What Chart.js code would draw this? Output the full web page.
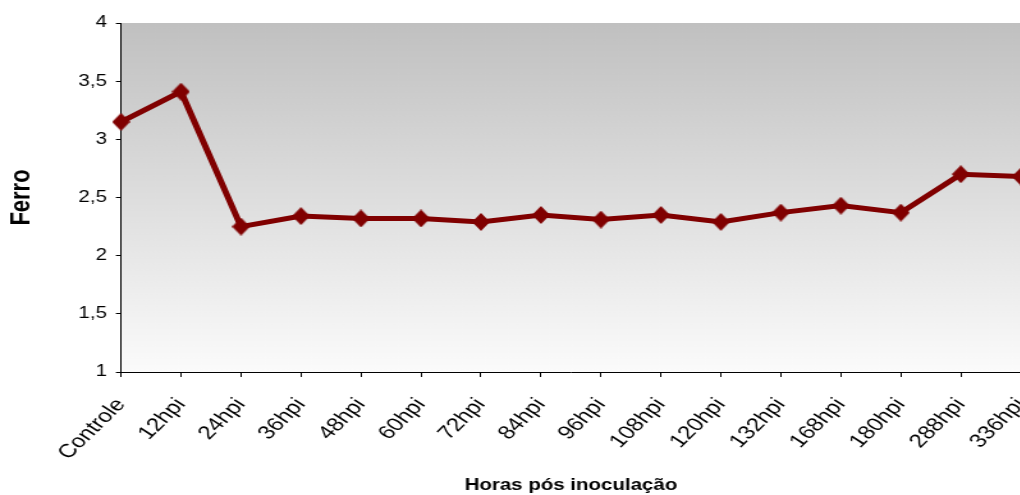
<!DOCTYPE html>
<html>
<head>
<meta charset="utf-8">
<script src="https://cdn.jsdelivr.net/npm/chart.js@4/dist/chart.umd.min.js"></script>
<style>
  html, body { margin: 0; padding: 0; background: #fff; overflow: hidden; }
  #ferroChart { display: block; }
</style>
</head>
<body>
<!-- drawn narrow and stretched sideways, like the original picture -->
<canvas id="ferroChart" width="813" height="495" style="width:1040px;height:495px"></canvas>
<script>
const categories = ["Controle", "12hpi", "24hpi", "36hpi", "48hpi", "60hpi", "72hpi", "84hpi",
    "96hpi", "108hpi", "120hpi", "132hpi", "168hpi", "180hpi", "288hpi", "336hpi"];
const ferro = [3.15, 3.41, 2.25, 2.34, 2.32, 2.32, 2.29, 2.35, 2.31, 2.35, 2.29, 2.37, 2.43, 2.37, 2.70, 2.68];
const yTicks = [1, 1.5, 2, 2.5, 3, 3.5, 4];

const ctx = document.getElementById("ferroChart").getContext("2d");

// diamond marker, a bit taller than wide so it looks square once stretched
const diamond = document.createElement("canvas");
diamond.width = 14;
diamond.height = 18;
const dctx = diamond.getContext("2d");
dctx.fillStyle = "#800000";
dctx.beginPath();
dctx.moveTo(7, 0);
dctx.lineTo(14, 9);
dctx.lineTo(7, 18);
dctx.lineTo(0, 9);
dctx.closePath();
dctx.fill();

// gray-to-white gradient behind the plot area
const plotBackground = {
    id: "plotBackground",
    beforeDraw(chart) {
        const { ctx, chartArea: a } = chart;
        const g = ctx.createLinearGradient(0, a.top, 0, a.bottom);
        g.addColorStop(0, "#c0c0c0");
        g.addColorStop(1, "#fbfbfb");
        ctx.save();
        ctx.fillStyle = g;
        ctx.fillRect(a.left, a.top, a.right - a.left, a.bottom - a.top);
        ctx.restore();
    },
};

const fontFamily = "'Liberation Sans', Arial, sans-serif";

new Chart(ctx, {
    type: "line",
    data: {
        labels: categories,
        datasets: [
            {
                label: "Ferro",
                data: ferro,
                borderColor: "#800000",
                backgroundColor: "#800000",
                borderWidth: 5,
                pointStyle: diamond,
                pointRadius: 7,
                pointHoverRadius: 7,
                tension: 0,
                clip: false,
            },
        ],
    },
    options: {
        responsive: false,
        animation: false,
        layout: { padding: { top: 23, right: 15, left: 0, bottom: 0 } },
        plugins: { legend: { display: false }, tooltip: { enabled: false } },
        scales: {
            x: {
                offset: false,
                afterFit(axis) {
                    axis.height = 123;
                    axis.paddingLeft = 0;
                    axis.paddingRight = 0;
                },
                grid: { display: true, drawOnChartArea: false, drawTicks: true, tickLength: 5, color: "#000" },
                border: { color: "#000", width: 1 },
                ticks: {
                    color: "#000",
                    font: { family: fontFamily, size: 19 },
                    maxRotation: 51,
                    minRotation: 51,
                    autoSkip: false,
                    padding: 17,
                },
                title: {
                    display: true,
                    text: "Horas pós inoculação",
                    color: "#000",
                    font: { family: fontFamily, size: 16, weight: "bold" },
                    padding: { top: 0, bottom: 0 },
                },
            },
            y: {
                min: 1,
                max: 4,
                afterBuildTicks(axis) {
                    axis.ticks = yTicks.map((v) => ({ value: v }));
                },
                afterFit(axis) { axis.width = 94.6; },
                grid: { display: true, drawOnChartArea: false, drawTicks: true, tickLength: 4, color: "#000" },
                border: { color: "#000", width: 1 },
                ticks: {
                    color: "#000",
                    font: { family: fontFamily, size: 16 },
                    padding: 7,
                    callback: (v) => String(v).replace(".", ","),
                },
                title: {
                    display: true,
                    text: "Ferro",
                    color: "#000",
                    font: { family: fontFamily, size: 22, weight: "bold" },
                    padding: { top: 4, bottom: 0 },
                },
            },
        },
    },
    plugins: [plotBackground],
});
</script>
</body>
</html>
